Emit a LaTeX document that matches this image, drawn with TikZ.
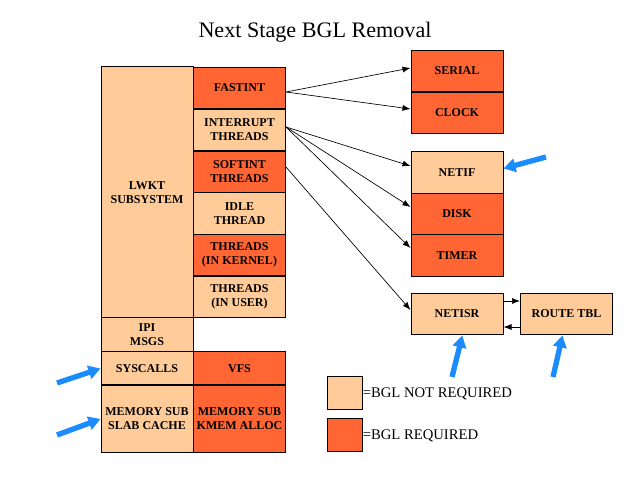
\documentclass[tikz,border=0pt]{standalone}
\usepackage{fontspec}
\setmainfont{Liberation Serif}
\usetikzlibrary{arrows.meta}
\definecolor{nobglcol}{HTML}{FFCC99}
\definecolor{bglcol}{HTML}{FF6633}
\definecolor{pointer}{HTML}{1A8CFF}
\begin{document}
\begin{tikzpicture}[x=0.75pt,y=-0.75pt,
  cell/.style={draw, line width=0.75pt, align=center, inner sep=1pt,
    minimum width=69pt, font=\fontsize{9}{10.5}\selectfont\bfseries},
  free/.style={cell, fill=nobglcol},
  locked/.style={cell, fill=bglcol},
  row/.style={minimum height=31.4pt},
  link/.style={-{Latex[length=6pt,width=4.5pt]}, line width=0.5pt},
  hint/.style={pointer, line width=4pt, -{Triangle[length=9pt,width=10pt]}}]
\useasboundingbox (0,0) rectangle (640,477);
\node[anchor=base, font=\fontsize{16.6}{18}\selectfont] (title) at (315,38) {Next Stage BGL Removal};
\node[free, minimum height=188.25pt] (lwkt) at (147,192.5) {LWKT\\SUBSYSTEM};
\node[locked,row] (fastint) at (239.5,88) {FASTINT};
\node[free,row] (interrupt) at (239.5,130) {INTERRUPT\\THREADS};
\node[locked,row] (softint) at (239.5,172) {SOFTINT\\THREADS};
\node[free,row] (idle) at (239.5,213.5) {IDLE\\THREAD};
\node[locked,row] (kthreads) at (239.5,255) {THREADS\\(IN KERNEL)};
\node[free,row] (uthreads) at (239.5,297) {THREADS\\(IN USER)};
\node[free, minimum height=25.5pt] (ipi) at (147,335) {IPI\\MSGS};
\node[free, minimum height=24.75pt] (syscalls) at (147,368.5) {SYSCALLS};
\node[locked, minimum height=24.75pt] (vfs) at (239.5,368.5) {VFS};
\node[free, minimum height=50.25pt] (slab) at (147,419) {MEMORY SUB\\SLAB CACHE};
\node[locked, minimum height=50.25pt] (kmem) at (239.5,419) {MEMORY SUB\\KMEM ALLOC};
\node[locked,row] (serial) at (457,71) {SERIAL};
\node[locked,row] (clock) at (457,113) {CLOCK};
\node[free,row] (netif) at (457,172.5) {NETIF};
\node[locked,row] (disk) at (457,214) {DISK};
\node[locked,row] (timer) at (457,255.5) {TIMER};
\node[free,row] (netisr) at (457,314) {NETISR};
\node[free,row] (route) at (566.5,314) {ROUTE TBL};
\node[free, minimum width=26.25pt, minimum height=24.75pt] (keyfree) at (344.5,393.5) {};
\node[locked, minimum width=26.25pt, minimum height=24.75pt] (keylocked) at (344.5,435.5) {};
\node[anchor=west, inner sep=0pt, font=\fontsize{11}{12}\selectfont] (keyfreetext) at (keyfree.east) {=BGL NOT REQUIRED};
\node[anchor=west, inner sep=0pt, font=\fontsize{11}{12}\selectfont] (keylockedtext) at (keylocked.east) {=BGL REQUIRED};
\draw[link] ([yshift=-3pt]fastint.east) -- ([yshift=2.25pt]serial.west);
\draw[link] ([yshift=-3pt]fastint.east) -- ([yshift=3pt]clock.west);
\draw[link] ([yshift=2.25pt]interrupt.east) -- ([yshift=4.9pt]netif.west);
\draw[link] ([yshift=2.25pt]interrupt.east) -- ([yshift=5.25pt]disk.west);
\draw[link] ([yshift=2.25pt]interrupt.east) -- ([yshift=5.6pt]timer.west);
\draw[link] ([yshift=3.75pt]softint.east) -- ([yshift=3pt]netisr.west);
\draw[link] ([yshift=9.75pt]netisr.east) -- ([yshift=9.75pt]route.west);
\draw[link] ([yshift=-9.75pt]route.west) -- ([yshift=-9.75pt]netisr.east);
\coordinate (tailsys) at (57,383);
\coordinate (tailslab) at (57,435);
\coordinate (tailnetif) at (546,157);
\coordinate (tailnetisr) at (452,377);
\coordinate (tailroute) at (553,377);
\draw[hint] (tailsys) -- (syscalls.west);
\draw[hint] (tailslab) -- (slab.west);
\draw[hint] (tailnetif) -- ([yshift=3pt]netif.east);
\draw[hint] (tailnetisr) -- ([xshift=4pt]netisr.south);
\draw[hint] (tailroute) -- ([xshift=-3pt]route.south);
\end{tikzpicture}
\end{document}
